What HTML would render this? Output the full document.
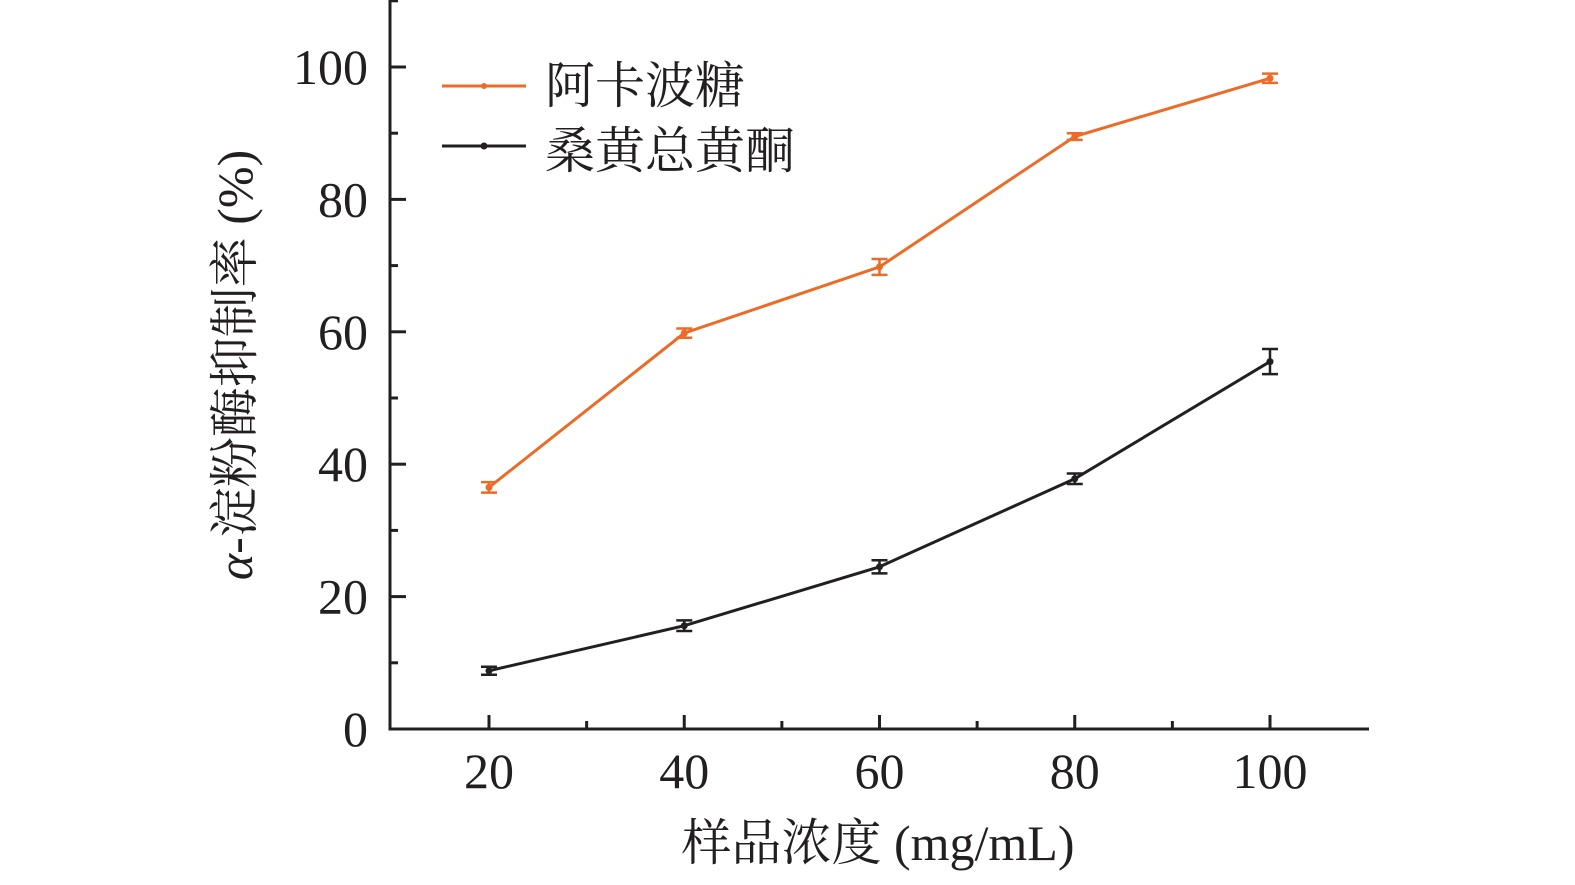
<!DOCTYPE html>
<html><head><meta charset="utf-8"><style>
body{margin:0;background:#fff;}
text{font-family:"Liberation Serif","Noto Serif CJK SC",serif;fill:#231f20;}
</style></head><body>
<svg width="1575" height="880" viewBox="0 0 1575 880">
<g id="g"></g>
</svg>
<script>
const categories=[20,40,60,80,100];
const acarbose=[36.5,59.8,69.8,89.5,98.3];
const acarboseErr=[0.8,0.7,1.2,0.5,0.7];
const flavone=[8.8,15.6,24.5,37.8,55.5];
const flavoneErr=[0.6,0.8,1.0,0.8,1.9];
const yTicks=[0,20,40,60,80,100];
const xTicks=[20,40,60,80,100];
const NS='http://www.w3.org/2000/svg';
const g=document.getElementById('g');
const X0=390,Y0=729;
function sx(v){return 489+(v-20)*(1270-489)/80;}
function sy(v){return Y0-v*(Y0-67)/100;}
function el(t,a,txt){const e=document.createElementNS(NS,t);for(const k in a)e.setAttribute(k,a[k]);if(txt!==undefined)e.textContent=txt;g.appendChild(e);return e;}
let e;
e=el('path',{d:`M${X0} 0V${Y0}H1369`,fill:'none',stroke:'#231f20','stroke-width':3});


for(let v=0;v<=110;v+=10){const maj=v%20===0;e=el('line',{x1:X0,x2:X0+(maj?16:8),y1:sy(v),y2:sy(v),stroke:'#231f20','stroke-width':3});

}
for(let v=20;v<=100;v+=10){const maj=v%20===0;e=el('line',{x1:sx(v),x2:sx(v),y1:Y0,y2:Y0-(maj?14:8),stroke:'#231f20','stroke-width':3});

}
yTicks.forEach(v=>{e=el('text',{x:368,y:sy(v)+17,'text-anchor':'end','font-size':50},String(v));

});
xTicks.forEach(v=>{e=el('text',{x:sx(v),y:788,'text-anchor':'middle','font-size':50},String(v));

});
e=el('text',{x:878,y:860,'text-anchor':'middle','font-size':50},'样品浓度 (mg/mL)');


e=el('text',{x:0,y:0,'text-anchor':'middle','font-size':50,transform:'translate(252,365) rotate(-90)'});
e.innerHTML='<tspan font-style="italic">α</tspan>-淀粉酶抑制率 (%)';


function series(vals,errs,color,name){
 e=el('polyline',{points:vals.map((v,i)=>sx(categories[i])+','+sy(v)).join(' '),fill:'none',stroke:color,'stroke-width':3});
 
 
 vals.forEach((v,i)=>{const x=sx(categories[i]);const a=sy(v+errs[i]),b=sy(v-errs[i]);
  e=el('path',{d:`M${x} ${a}V${b}M${x-8} ${a}H${x+8}M${x-8} ${b}H${x+8}`,stroke:color,'stroke-width':2.5,fill:'none'});
  
  
  e=el('circle',{cx:x,cy:sy(v),r:3.5,fill:color});
  
  });
}
series(acarbose,acarboseErr,'#ec6b26','acarbose');
series(flavone,flavoneErr,'#231f20','flavone');
e=el('line',{x1:442,x2:526,y1:86,y2:86,stroke:'#ec6b26','stroke-width':3});


e=el('circle',{cx:484,cy:86,r:3,fill:'#ec6b26'});


e=el('text',{x:545,y:103,'font-size':50},'阿卡波糖');


e=el('line',{x1:442,x2:526,y1:146,y2:146,stroke:'#231f20','stroke-width':3});


e=el('circle',{cx:484,cy:146,r:3.5,fill:'#231f20'});


e=el('text',{x:545,y:168,'font-size':50},'桑黄总黄酮');


</script>
</body></html>
